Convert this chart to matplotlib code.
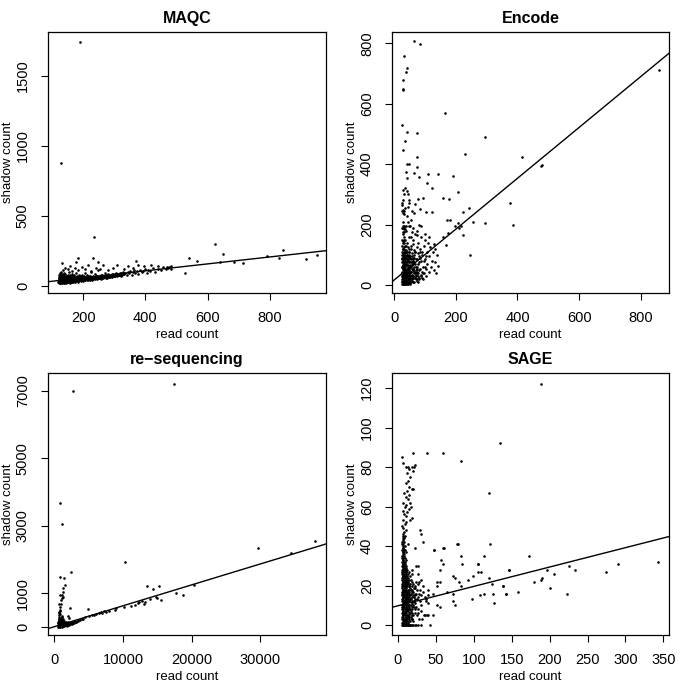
import numpy as np
import matplotlib
matplotlib.use("Agg")
import matplotlib.pyplot as plt

plt.rcParams['font.family'] = ['Liberation Sans', 'DejaVu Sans']

# ---- MAQC ----
maqc_pts = [
    (190, 1743), (129, 874), (235, 345), (625, 300), (650, 226), (542, 200),
    (567, 176), (640, 172), (685, 170), (715, 160), (792, 212), (830, 195),
    (844, 255), (916, 188), (952, 219), (527, 88), (233, 196), (132, 164),
    (178, 171), (248, 171), (369, 179), (477, 131), (483, 141), (417, 148),
    (183, 195),
    (121, 18), (121, 42), (122, 60), (122, 30), (123, 75), (123, 50), (124, 22), (124, 88),
    (125, 38), (125, 65), (126, 28), (126, 55), (127, 45), (127, 80), (128, 20), (128, 35),
    (129, 62), (129, 95), (130, 48), (130, 26), (131, 70), (131, 40), (132, 18), (132, 58),
    (133, 32), (133, 85), (134, 50), (134, 24), (135, 66), (135, 42), (136, 30), (136, 78),
    (137, 55), (137, 20), (138, 45), (138, 92), (139, 36), (139, 68), (140, 27), (140, 52),
    (141, 62), (142, 38), (142, 84), (143, 25), (144, 48), (144, 72), (145, 33), (146, 58),
    (146, 20), (147, 44), (148, 66), (148, 30), (149, 52), (150, 80), (150, 40), (151, 24),
    (152, 60), (153, 35), (153, 95), (154, 50), (155, 28), (155, 70), (156, 42), (157, 58),
    (158, 22), (158, 46), (159, 75), (160, 34), (160, 62), (161, 50), (162, 26), (163, 40),
    (163, 86), (164, 56), (165, 30), (166, 68), (166, 45), (167, 36), (168, 54), (169, 28),
    (170, 64), (170, 44), (171, 38), (172, 76), (173, 50), (174, 30), (175, 60), (176, 42),
    (177, 90), (178, 34), (179, 56), (180, 46), (181, 70), (182, 36), (183, 52), (184, 28),
    (185, 62), (186, 44), (187, 80), (188, 38), (189, 58), (190, 48), (191, 66), (192, 34),
    (193, 54), (194, 44), (195, 74), (196, 40), (197, 60), (198, 50), (199, 36), (200, 64),
    (202, 46), (203, 70), (204, 40), (206, 56), (207, 88), (208, 48), (209, 62), (211, 42),
    (212, 54), (213, 76), (215, 46), (216, 60), (217, 38), (219, 52), (220, 68), (221, 44),
    (223, 58), (224, 100), (226, 50), (227, 64), (229, 42), (230, 56), (232, 72), (233, 48),
    (235, 60), (236, 52), (238, 82), (239, 46), (241, 62), (242, 54), (244, 70), (245, 48),
    (247, 58), (248, 110), (250, 64), (252, 52), (254, 68), (255, 58), (257, 74), (259, 50),
    (260, 62), (262, 80), (264, 56), (266, 70), (267, 60), (269, 90), (271, 64), (273, 56),
    (275, 76), (277, 66), (279, 60), (281, 84), (283, 70), (285, 62), (287, 78), (290, 68),
    (292, 74), (294, 62), (297, 86), (299, 72), (302, 80), (304, 70), (307, 90), (309, 76),
    (312, 84), (315, 74), (317, 92), (320, 80), (323, 88), (326, 78), (329, 96), (332, 84),
    (336, 92), (340, 80), (344, 98), (348, 88), (352, 104), (356, 76), (360, 96), (364, 110),
    (368, 90), (373, 102), (378, 86), (383, 114), (388, 98), (393, 108), (398, 120), (404, 92),
    (410, 112), (416, 104), (424, 124), (432, 98), (440, 116), (450, 110), (458, 136), (466, 120),
    (474, 128), (482, 118),
    (135, 110), (142, 130), (150, 118), (158, 140), (165, 105), (175, 125), (185, 112), (195, 135),
    (205, 120), (215, 150), (225, 108), (240, 128), (255, 118), (265, 145), (280, 112), (295, 130),
    (310, 150), (330, 120), (345, 140), (360, 125), (378, 145), (395, 140), (440, 140), (470, 135),
    (120, 30), (121, 55), (123, 35), (124, 70), (126, 45), (127, 25), (129, 40), (130, 75),
    (132, 45), (134, 65), (135, 30), (137, 48), (139, 22), (141, 45), (143, 60), (145, 50),
    (147, 28), (149, 72), (151, 45), (154, 38), (156, 64), (159, 30), (161, 40), (164, 72),
    (167, 50), (169, 60), (172, 40), (175, 48), (178, 64), (181, 42), (184, 56), (187, 50),
    (190, 38), (193, 70), (197, 46), (201, 54), (205, 44), (209, 50), (213, 58), (218, 48),
    (222, 66), (228, 52), (231, 46), (237, 56), (240, 70), (246, 52), (251, 58), (256, 66),
    (261, 54), (265, 62), (270, 72), (276, 58), (282, 64), (288, 70), (293, 82), (298, 66),
    (303, 76), (310, 68), (316, 80), (322, 72), (328, 82),
]
maqc_fit = (7.0, 0.248)

# ---- Encode ----
encode_pts = [
    (65, 806), (84, 797), (34, 758), (38, 704), (41, 717), (28, 679), (28, 648), (30, 646),
    (165, 568), (26, 530), (41, 508), (73, 502), (36, 477), (295, 489), (230, 433), (414, 425),
    (73, 425), (477, 395), (481, 397), (28, 447), (41, 400), (49, 400), (75, 392), (111, 368),
    (141, 367), (192, 361), (39, 373), (82, 356), (65, 370), (41, 353), (106, 337), (122, 322),
    (206, 309), (28, 315), (36, 321), (160, 289), (179, 285), (93, 289), (50, 282), (78, 286),
    (68, 268), (376, 270), (26, 270), (57, 245), (123, 242), (104, 242), (242, 254), (222, 243),
    (85, 251), (30, 240), (182, 217), (172, 215), (206, 206), (198, 195), (295, 206), (256, 210),
    (385, 199), (209, 189), (216, 196), (222, 166), (246, 99), (144, 64), (169, 132), (158, 160),
    (175, 174), (133, 121), (136, 41), (860, 710),
    (26, 10), (27, 30), (28, 55), (29, 80), (30, 15), (31, 100), (32, 45), (33, 125), (34, 20),
    (35, 70), (26, 150), (28, 175), (30, 190), (32, 195), (29, 210), (31, 235), (33, 245),
    (27, 265), (30, 280), (34, 300), (36, 255), (28, 120), (30, 140), (32, 160), (35, 185),
    (26, 90), (27, 60), (29, 5), (33, 8), (36, 35), (26, 40), (28, 25), (30, 65), (32, 85),
    (34, 110), (27, 190), (29, 195), (31, 185), (33, 192), (26, 245), (30, 250), (28, 100),
    (37, 12), (38, 50), (39, 90), (40, 25), (41, 110), (42, 65), (43, 140), (44, 15), (45, 85),
    (46, 40), (47, 160), (48, 120), (49, 8), (50, 55), (38, 195), (40, 180), (42, 230), (44, 260),
    (46, 210), (48, 270), (41, 310), (45, 300), (49, 195), (37, 150), (39, 130), (43, 100),
    (47, 30), (50, 75), (38, 70), (40, 5), (42, 40), (44, 95), (46, 18), (48, 60), (36, 105),
    (52, 20), (53, 95), (54, 45), (55, 130), (56, 10), (57, 65), (58, 105), (59, 35), (60, 80),
    (61, 150), (62, 25), (63, 55), (64, 115), (65, 12), (66, 90), (67, 40), (68, 170), (69, 70),
    (70, 20), (52, 195), (56, 215), (60, 190), (64, 240), (54, 160), (58, 175), (62, 135),
    (66, 100), (70, 50), (53, 5), (57, 30), (61, 50), (65, 75), (69, 110), (55, 85),
    (72, 30), (73, 85), (74, 125), (75, 15), (76, 60), (77, 105), (78, 40), (79, 140), (80, 75),
    (81, 25), (82, 95), (84, 55), (85, 120), (86, 35), (88, 80), (89, 160), (90, 45), (76, 180),
    (80, 200), (86, 195), (74, 165), (83, 110), (78, 10),
    (92, 100), (94, 60), (96, 130), (98, 40), (100, 85), (102, 150), (104, 30), (106, 110),
    (108, 70), (110, 140), (112, 45), (115, 95), (118, 125), (120, 60), (122, 80), (125, 110),
    (128, 50), (130, 135), (134, 75), (138, 100), (95, 20), (100, 170), (112, 160), (90, 25),
    (105, 55),
    (26, 20), (26, 60), (26, 110), (27, 5), (27, 45), (27, 85), (27, 130), (28, 12), (28, 40),
    (28, 75), (28, 145), (29, 28), (29, 60), (29, 100), (29, 170), (30, 5), (30, 35), (30, 90),
    (30, 120), (31, 20), (31, 55), (31, 75), (31, 150), (32, 10), (32, 30), (32, 65), (32, 115),
    (33, 40), (33, 95), (33, 175), (34, 5), (34, 60), (34, 85), (34, 140), (35, 25), (35, 45),
    (35, 115), (36, 15), (36, 80), (36, 130), (37, 60), (37, 95), (38, 25), (38, 110), (39, 10),
    (39, 45), (40, 70), (40, 115), (41, 30), (41, 85), (42, 15), (42, 100), (43, 50), (43, 75),
    (44, 35), (44, 125), (45, 10), (45, 60), (46, 95), (47, 50), (47, 80), (48, 20), (48, 100),
    (49, 40), (50, 30), (50, 110), (51, 65), (52, 45), (54, 25), (55, 60), (56, 120), (58, 15),
    (59, 75), (60, 50), (62, 90), (63, 30), (65, 45), (67, 110), (68, 25), (70, 85), (72, 60),
    (75, 40), (77, 70), (80, 20), (82, 50), (85, 90), (88, 30), (90, 110), (94, 40), (97, 80),
    (100, 60), (104, 95),
    (26, 30), (26, 75), (27, 15), (27, 100), (28, 5), (28, 65), (29, 40), (29, 120), (30, 25),
    (30, 55), (30, 105), (31, 10), (31, 40), (31, 90), (32, 20), (32, 55), (32, 100), (33, 15),
    (33, 30), (33, 70), (34, 45), (34, 75), (35, 10), (35, 35), (35, 95), (36, 25), (36, 55),
    (37, 5), (37, 40), (37, 80), (38, 15), (38, 35), (38, 90), (39, 25), (39, 65), (40, 15),
    (40, 45), (40, 95), (41, 5), (41, 55), (42, 25), (42, 80), (43, 10), (43, 35), (44, 55),
    (44, 80), (45, 25), (45, 45), (46, 5), (46, 65), (47, 15), (47, 110), (48, 40), (48, 75),
    (49, 25), (49, 90), (50, 10), (50, 45), (51, 30), (51, 90), (52, 60), (53, 35), (54, 75),
    (55, 15), (56, 45), (57, 95), (58, 55), (59, 20), (60, 30), (61, 70), (62, 10), (63, 85),
    (64, 40), (66, 60), (67, 25), (69, 45), (71, 35), (73, 55), (74, 20), (76, 45), (79, 30),
]
encode_fit = (16.5, 0.842)

# ---- re-sequencing ----
reseq_pts = [
    (2660, 7000), (17380, 7190), (820, 3690), (1110, 3050), (10270, 1930), (2470, 1640),
    (870, 1490), (1360, 1460), (1600, 1250), (1310, 1150), (13510, 1230), (15210, 1230),
    (14430, 1125), (15010, 870), (15540, 820), (17770, 1005), (18790, 965), (20340, 1250),
    (29690, 2350), (34480, 2210), (37970, 2560), (820, 960), (1110, 860), (1310, 890),
    (730, 690), (2280, 580), (4840, 550),
    (3000, 200), (3500, 230), (4000, 260), (4500, 290), (5000, 320), (5500, 350), (6000, 380),
    (6500, 410), (7000, 430), (7500, 450), (8000, 480), (8800, 520), (9000, 560), (10200, 610),
    (11200, 640), (11800, 660), (12200, 720), (12400, 760), (12800, 780), (13000, 700),
    (13200, 740), (14000, 840), (14800, 900), (5800, 360), (6800, 440), (7200, 470),
    (3200, 170), (4200, 240), (2600, 150), (2200, 130), (1800, 110), (1500, 80), (1200, 60),
    (600, 20), (700, 60), (800, 100), (900, 150), (1000, 40), (650, 200), (750, 300), (850, 380),
    (700, 450), (800, 520), (900, 600), (750, 250), (1100, 80), (1200, 120), (1300, 30),
    (1400, 180), (1500, 60), (1600, 140), (1700, 100), (1800, 50), (2000, 160), (2100, 90),
    (2300, 140), (2400, 110), (2700, 120), (600, 120), (650, 350), (700, 420), (950, 260),
    (1050, 210), (1150, 300), (1000, 700), (950, 800), (1100, 950), (1250, 1050), (850, 480),
    (620, 40), (680, 80), (760, 10), (820, 70), (880, 30), (960, 110), (1020, 160), (1080, 20),
    (1140, 50), (1220, 90), (1350, 110), (1450, 40), (1550, 130), (1650, 70), (1750, 120),
    (1900, 90), (2200, 70), (2500, 160), (2600, 100), (2900, 180), (3100, 150), (3400, 200),
    (3700, 210), (580, 160), (640, 250), (720, 180), (800, 230), (860, 200), (920, 280),
    (1060, 330), (1200, 200), (1300, 240), (1950, 330), (2100, 270), (640, 90), (700, 130),
    (780, 160), (840, 130), (900, 60), (1000, 90), (1150, 140), (1250, 170), (1450, 100),
    (600, 60), (660, 10), (740, 40), (980, 190), (1400, 60), (1700, 150), (2800, 140),
]
reseq_fit = (17.0, 0.0619)

# ---- SAGE ----
sage_pts = [
    (189, 122), (135, 92), (120, 67), (83, 83), (19.8, 87), (38.8, 87), (59, 87), (5.3, 85),
    (121, 41), (78.7, 41), (60, 39), (48, 38), (83, 35), (113, 35), (85, 31), (106, 31),
    (146, 28), (173, 35), (147, 28), (196, 28), (226, 30), (233, 28), (290, 31), (343, 32),
    (274, 27), (206, 26), (138, 20), (179, 22), (188, 23), (190, 24), (142, 16), (158, 17),
    (200, 19), (223, 16),
    (29, 48), (31, 46), (33, 42), (26, 30), (47, 38), (57, 33), (60, 31), (55, 28), (61, 39),
    (78, 41), (106, 31), (110, 27), (105, 27), (99, 25), (93, 23), (73, 25), (75, 24), (51, 22),
    (55, 22), (80, 22), (83, 20), (65, 17), (73, 16), (51, 20), (33, 20), (39, 18), (46, 16),
    (28, 16), (37, 13), (40, 11), (51, 10), (56, 9), (72, 12), (75, 10), (97, 13), (108, 15),
    (113, 16), (126, 11), (125, 16), (138, 20), (143, 16), (120, 24), (124, 21), (31, 7),
    (34, 5), (39, 5), (26, 6), (46, 5), (30, 0), (42, 0),
    (5, 0), (6, 0), (7, 0), (8, 0), (9, 0), (10, 0), (11, 0), (12, 0), (13, 0), (14, 0),
    (15, 0), (16, 0), (17, 0), (18, 0), (20, 0), (22, 0), (24, 0), (26, 0),
    (5, 1), (7, 1), (10, 1), (13, 1), (6, 2), (9, 2), (12, 2), (16, 2), (5, 3), (8, 3), (11, 3),
    (14, 3), (18, 3), (6, 4), (10, 4), (13, 4), (7, 5), (9, 5), (12, 5), (15, 5), (20, 5),
    (5, 6), (8, 6), (11, 6), (14, 6), (6, 7), (10, 7), (13, 7), (17, 7), (5, 8), (7, 8), (9, 8),
    (12, 8), (16, 8), (22, 8), (6, 9), (8, 9), (11, 9), (14, 9), (19, 9), (5, 10), (7, 10),
    (10, 10), (13, 10), (15, 10), (6, 11), (9, 11), (12, 11), (18, 11), (5, 12), (8, 12),
    (11, 12), (14, 12), (21, 12), (7, 13), (10, 13), (13, 13), (16, 13), (6, 14), (9, 14),
    (12, 14), (15, 14), (5, 15), (8, 15), (11, 15), (14, 15), (20, 15), (6, 16), (10, 16),
    (13, 16), (17, 16), (5, 17), (7, 17), (9, 17), (12, 17), (7, 18), (10, 18), (14, 18),
    (19, 18), (5, 19), (8, 19), (11, 19), (16, 19), (6, 20), (9, 20), (12, 20), (15, 20),
    (22, 20), (5, 21), (7, 21), (10, 21), (14, 21), (6, 22), (9, 22), (12, 22), (18, 22),
    (5, 23), (8, 23), (11, 23), (15, 23), (6, 24), (10, 24), (13, 24), (7, 25), (9, 25),
    (12, 25), (16, 25), (5, 26), (8, 26), (11, 26), (6, 27), (10, 27), (14, 27), (5, 28),
    (7, 28), (9, 28), (12, 28), (6, 29), (8, 29), (11, 29), (5, 30), (7, 30), (10, 30),
    (24, 30), (6, 31), (9, 31), (5, 32), (8, 32), (7, 33), (10, 33), (6, 34), (9, 34), (5, 35),
    (8, 35), (7, 36), (6, 37), (10, 37), (5, 38), (8, 38), (7, 39), (6, 40), (9, 40), (22, 39),
    (5, 41), (8, 42), (13, 41), (6, 43), (7, 44), (9, 45), (6, 46), (8, 47), (10, 48), (7, 49),
    (5, 50), (9, 51), (11, 52), (7, 53), (16, 53), (18, 54), (10, 55), (8, 56), (12, 57),
    (6, 58), (14, 59), (9, 60), (17, 60), (11, 61), (7, 62), (16, 62), (13, 64), (10, 65),
    (15, 66), (8, 67), (12, 68), (18, 69), (20, 69), (14, 70), (11, 72), (13, 73), (16, 75),
    (12, 77), (20, 78), (14, 79), (19, 80), (21, 80), (22, 81), (10, 80), (7, 82), (13, 80),
    (17, 4), (19, 6), (21, 9), (23, 11), (25, 13), (18, 14), (20, 17), (23, 19), (26, 21),
    (28, 22), (30, 23), (17, 23), (19, 26), (21, 12), (24, 16), (27, 8), (29, 12), (31, 15),
    (33, 17), (35, 14), (37, 12), (40, 15), (22, 6), (25, 5), (28, 3), (32, 3), (35, 5),
    (38, 5), (30, 10), (26, 26), (18, 28),
    (5, 4), (6, 5), (7, 3), (8, 1), (9, 3), (10, 2), (11, 4), (12, 3), (13, 5), (14, 4), (15, 2),
    (5, 9), (6, 6), (7, 7), (8, 10), (9, 6), (10, 8), (11, 7), (12, 9), (13, 8), (14, 10),
    (15, 8), (5, 13), (6, 12), (7, 14), (8, 14), (9, 12), (10, 14), (11, 13), (12, 12), (13, 15),
    (14, 13), (15, 12), (5, 16), (6, 18), (7, 16), (8, 17), (9, 18), (10, 17), (11, 17),
    (12, 16), (13, 18), (14, 16), (15, 17), (5, 20), (6, 21), (7, 22), (8, 20), (9, 21),
    (10, 22), (11, 20), (12, 21), (13, 22), (14, 20), (5, 24), (6, 25), (7, 24), (8, 24),
    (9, 23), (10, 25), (11, 24), (12, 23), (13, 26), (5, 27), (6, 28), (7, 26), (8, 27), (9, 29),
    (10, 28), (11, 27), (6, 30), (8, 30), (9, 32), (7, 31), (6, 33), (5, 34), (8, 36), (7, 37),
    (9, 38), (6, 39), (5, 42), (7, 41), (8, 44), (6, 45),
    (16, 6), (17, 10), (18, 8), (19, 12), (20, 10), (21, 14), (22, 13), (23, 15), (24, 9),
    (16, 15), (17, 18), (18, 17), (19, 20), (20, 21), (21, 19), (16, 21), (17, 13), (18, 5),
    (19, 3), (20, 2), (22, 16), (24, 22), (25, 18), (27, 14), (29, 18),
]
sage_fit = (9.8, 0.098)

panels = [
    ("MAQC", maqc_pts, maqc_fit, (87, 981), (-52, 1812),
     [200, 400, 600, 800], [0, 500, 1000, 1500]),
    ("Encode", encode_pts, encode_fit, (-6.5, 891), (-26, 837),
     [0, 200, 400, 600, 800], [0, 200, 400, 600, 800]),
    ("re\u2212sequencing", reseq_pts, reseq_fit, (-917, 39560), (-228, 7524),
     [0, 10000, 20000, 30000], [0, 1000, 3000, 5000, 7000]),
    ("SAGE", sage_pts, sage_fit, (-7.9, 357.5), (-5, 127.6),
     [0, 50, 100, 150, 200, 250, 300, 350], [0, 20, 40, 60, 80, 100, 120]),
]

# axes boxes in pixels (left, top, right, bottom)
boxes = [(48, 32, 326, 293), (392, 32, 669, 293),
         (48, 373, 326, 635), (392, 373, 669, 635)]

W = 685
fig = plt.figure(figsize=(6.85, 6.85), dpi=100)

for (title, pts, fit, xl, yl, xt, yt), (l, t, r, b) in zip(panels, boxes):
    ax = fig.add_axes([l / W, 1 - b / W, (r - l) / W, (b - t) / W])
    pts = np.array(pts, dtype=float)
    ax.scatter(pts[:, 0], pts[:, 1], s=3.5, c='black', linewidths=0, marker='o')
    ax.axline((0, fit[0]), slope=fit[1], color='black', lw=1.0)
    ax.set_xlim(*xl)
    ax.set_ylim(*yl)
    ax.set_xticks(xt)
    ax.set_yticks(yt)
    ax.set_yticklabels([str(v) for v in yt], rotation=90, va='center')
    ax.tick_params(direction='out', length=5, width=0.8, labelsize=10.5, pad=8)
    ax.tick_params(axis='y', pad=8)
    for sp in ax.spines.values():
        sp.set_linewidth(0.9)
    ax.set_title(title, fontsize=11.5, fontweight='bold', pad=6.5)
    ax.set_xlabel("read count", fontsize=9.5, labelpad=2.5)
    ax.set_ylabel("shadow count", fontsize=9.5)
    # right edge of the rotated y label sits about 34 px left of the box
    ax.yaxis.set_label_coords(-34 / (r - l), 0.5)

fig.savefig("out.png", dpi=100)
